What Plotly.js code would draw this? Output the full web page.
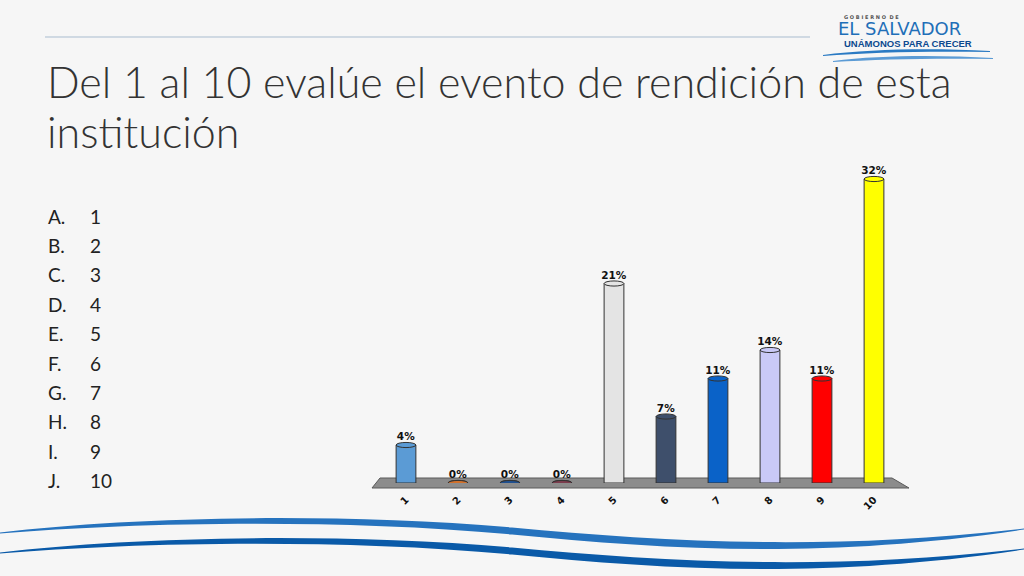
<!DOCTYPE html>
<html>
<head>
<meta charset="utf-8">
<script src="https://cdn.plot.ly/plotly-3.0.1.min.js"></script>
<style>
  html, body { margin: 0; padding: 0; background: #f6f6f6; }
  #chart { width: 1024px; height: 576px; }
</style>
</head>
<body>
<div id="chart"></div>
<script>
// ---- data ----
const categories = ['1', '2', '3', '4', '5', '6', '7', '8', '9', '10'];
const percentages = [4, 0, 0, 0, 21, 7, 11, 14, 11, 32];
const optionLetters = ['A.', 'B.', 'C.', 'D.', 'E.', 'F.', 'G.', 'H.', 'I.', 'J.'];
const titleLines = ['Del 1 al 10 evalúe el evento de rendición de esta', 'institución'];

// ---- styles ----
const barColors = ['#5b9bd5', '#d2712b', '#1f4f8f', '#7b3c4d', '#e4e4e4',
                   '#3e4f6b', '#0a62c8', '#c9c9f7', '#ff0000', '#ffff00'];
const W = 1024, H = 576;
const px = v => v / W;
const py = v => 1 - v / H;
function toPaperPath(p) {
  return p.replace(/(-?\d+(?:\.\d+)?) (-?\d+(?:\.\d+)?)/g, (m, a, b) => `${px(+a)} ${py(+b)}`);
}

const shapes = [];
// top rule
shapes.push({type: 'line', xref: 'paper', yref: 'paper',
  x0: px(45), x1: px(810), y0: py(37), y1: py(37),
  line: {color: '#a9bccf', width: 1}});
// floor
shapes.push({type: 'path', xref: 'paper', yref: 'paper', layer: 'below',
  path: toPaperPath('M 380 478 L 892 478 L 909 488 L 372 488 Z'),
  fillcolor: '#8c8c8c', line: {color: '#5a5a5a', width: 1}});
// bottom caps of the cylinders (under the bars)
const half = 0.19;
categories.forEach((c, i) => {
  shapes.push({type: 'circle', xref: 'x', yref: 'y', layer: 'below',
    x0: i - half, x1: i + half, y0: -0.28, y1: 0.28,
    fillcolor: barColors[i], line: {color: '#333', width: 1}});
});
// top caps
categories.forEach((c, i) => {
  const v = percentages[i];
  shapes.push({type: 'circle', xref: 'x', yref: 'y',
    x0: i - half, x1: i + half, y0: v - 0.27, y1: v + 0.27,
    fillcolor: barColors[i], line: {color: '#333', width: 1}});
});
// bottom waves (decoration)
function wavePath(o) {
  return `M 0 ${532.5+o} C 130 ${517+o} 330 ${512+o} 512 ${527.5+o} C 660 ${541+o} 820 ${552+o} 1024 ${528.5+o} ` +
         `L 1024 ${529.5+o} C 820 ${560+o} 660 ${549+o} 512 ${534.5+o} C 330 ${518+o} 130 ${523+o} 0 ${533.5+o} Z`;
}
shapes.push({type: 'path', xref: 'paper', yref: 'paper', layer: 'below',
  path: toPaperPath(wavePath(0)), fillcolor: '#2673be', line: {width: 0}});
shapes.push({type: 'path', xref: 'paper', yref: 'paper', layer: 'below',
  path: toPaperPath(wavePath(20)), fillcolor: '#0a5aa8', line: {width: 0}});
// logo waves
shapes.push({type: 'path', xref: 'paper', yref: 'paper',
  path: toPaperPath('M 823 55 C 870 49 930 48 990 51 L 990 52 C 930 51 870 52 823 56 Z'),
  fillcolor: '#2a7ac3', line: {width: 0}});
shapes.push({type: 'path', xref: 'paper', yref: 'paper',
  path: toPaperPath('M 833 61 C 880 55 940 55 993 58 L 993 59 C 940 58 880 59 833 62 Z'),
  fillcolor: '#5b9bd5', line: {width: 0}});

const annotations = [];
titleLines.forEach((t, i) => {
  annotations.push({xref: 'paper', yref: 'paper', x: px(45), y: py(81 + i * 51),
    xanchor: 'left', yanchor: 'middle', align: 'left', showarrow: false,
    text: t,
    font: {family: 'Lato', size: 43, color: '#333333', weight: 300}});
});
optionLetters.forEach((l, i) => {
  const yc = 216 + i * 29.4;
  annotations.push({xref: 'paper', yref: 'paper', x: px(46), y: py(yc),
    xanchor: 'left', yanchor: 'middle', showarrow: false, text: l,
    font: {family: 'Lato', size: 19, color: '#222'}});
  annotations.push({xref: 'paper', yref: 'paper', x: px(88), y: py(yc),
    xanchor: 'left', yanchor: 'middle', showarrow: false, text: categories[i],
    font: {family: 'Lato', size: 19, color: '#222'}});
});
// logo text
annotations.push({xref: 'paper', yref: 'paper', x: px(842), y: py(17),
  xanchor: 'left', yanchor: 'middle', showarrow: false, text: 'G O B I E R N O  D E',
  font: {family: 'DejaVu Sans', size: 5, color: '#555', weight: 'bold'}});
annotations.push({xref: 'paper', yref: 'paper', x: px(836), y: py(29),
  xanchor: 'left', yanchor: 'middle', showarrow: false, text: 'EL SALVADOR',
  font: {family: 'DejaVu Sans', size: 18, color: '#1f6fb8'}});
annotations.push({xref: 'paper', yref: 'paper', x: px(842), y: py(44),
  xanchor: 'left', yanchor: 'middle', showarrow: false, text: 'UNÁMONOS PARA CRECER',
  font: {family: 'Liberation Sans', size: 9.5, color: '#0d4a8f', weight: 'bold'}});

const trace = {
  type: 'bar',
  x: categories,
  y: percentages,
  width: 0.38,
  marker: {color: barColors, line: {color: '#333', width: 1}},
  texttemplate: '%{y}%',
  textposition: 'outside',
  constraintext: 'none',
  textfont: {family: 'DejaVu Sans', size: 10.5, color: '#111', weight: 'bold'},
  cliponaxis: false,
  hoverinfo: 'skip'
};

const layout = {
  width: W, height: H,
  margin: {l: 0, r: 0, t: 0, b: 0},
  paper_bgcolor: '#f6f6f6',
  plot_bgcolor: 'rgba(0,0,0,0)',
  showlegend: false,
  xaxis: {
    domain: [px(380), px(900)],
    range: [-0.5, 9.5],
    type: 'category',
    showgrid: false, zeroline: false, showline: false,
    ticks: '', tickangle: -45,
    ticklabelstandoff: 8,
    tickfont: {family: 'DejaVu Sans', size: 10, color: '#111', weight: 'bold'},
    fixedrange: true
  },
  yaxis: {
    domain: [py(483), py(150.5)],
    range: [0, 35],
    visible: false,
    fixedrange: true
  },
  shapes: shapes,
  annotations: annotations
};

Plotly.newPlot('chart', [trace], layout, {staticPlot: true, displayModeBar: false});
</script>
</body>
</html>
